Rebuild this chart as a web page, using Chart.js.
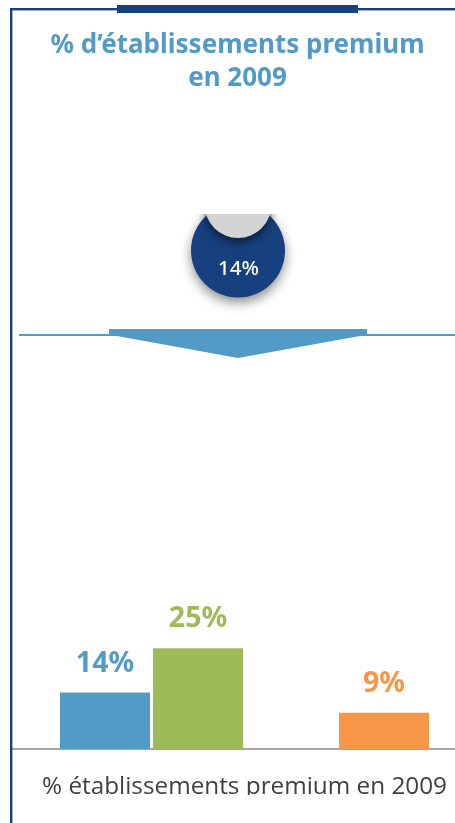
<!DOCTYPE html>
<html><head><meta charset="utf-8">
<style>html,body{margin:0;padding:0;background:#fff;overflow:hidden;width:455px;height:823px}canvas{display:block}</style>
<script src="https://cdn.jsdelivr.net/npm/chart.js@4"></script>
</head><body><canvas id="c" width="477" height="823"></canvas>
<script>
const categories = ["% établissements premium en 2009"];
const titleLines = ["% d’établissements premium", "en 2009"];
const seriesA = [14];
const seriesB = [25];
const seriesGap = [null];
const seriesC = [9];
const circleLabel = "14%";
const NAVY="#17407F", BLUE="#529BC6", GREEN="#9DBB59", ORANGE="#F79646";
const FONT='"Noto Sans", sans-serif';

const decor = {
  id:"decor",
  beforeDatasetsDraw(chart){
    const c=chart.ctx; c.save();
    // frame
    c.fillStyle=NAVY;
    c.fillRect(10,8,445,2.4);
    c.fillRect(10,8,2.4,815);
    c.fillRect(117,5,241,8);
    // title
    c.fillStyle=BLUE;c.font='bold 26px '+FONT;c.textAlign="center";c.textBaseline="alphabetic";
    c.fillText(titleLines[0],237.5,53);
    c.fillText(titleLines[1],237.5,85.5);
    // divider + arrow
    c.fillStyle=BLUE;
    c.fillRect(19,334,436,2);
    c.beginPath();
    c.moveTo(109,329);c.lineTo(367,329);c.lineTo(367,335);c.lineTo(360,336);
    c.lineTo(238,358);c.lineTo(117,336);c.lineTo(109,335);c.closePath();c.fill();
    // circle
    c.save();
    c.beginPath();c.rect(150,214,180,120);c.clip();
    c.save();
    c.shadowColor="rgba(0,0,0,0.45)";c.shadowBlur=12;c.shadowOffsetY=5;
    c.fillStyle=NAVY;c.beginPath();c.arc(238,250.5,47,0,Math.PI*2);c.fill();
    c.restore();
    c.save();
    c.shadowColor="rgba(0,0,0,0.55)";c.shadowBlur=10;c.shadowOffsetY=4;
    c.fillStyle="#D4D4D4";c.beginPath();c.arc(238,204.7,33.3,0,Math.PI*2);c.fill();
    c.restore();
    c.restore();
    c.fillStyle="#fff";c.font='500 20.5px '+FONT;c.textAlign="center";c.textBaseline="alphabetic";
    c.fillText(circleLabel,238.5,275);
    c.restore();
  },
  afterDatasetsDraw(chart){
    const c=chart.ctx; c.save();
    c.textAlign="center";c.textBaseline="alphabetic";c.font='bold 28.5px '+FONT;
    chart.data.datasets.forEach((d,i)=>{
      const v=d.data[0]; if(v==null) return;
      const el=chart.getDatasetMeta(i).data[0];
      c.fillStyle=d.backgroundColor;
      c.fillText(v+"%",el.x,el.y-21);
    });
    c.restore();
  },
  afterDraw(chart){
    const c=chart.ctx;c.save();
    c.fillStyle="#fff";c.fillRect(13,795,442,28);
    c.restore();
  }
};

new Chart(document.getElementById("c"),{
  type:"bar",
  data:{labels:categories,datasets:[
    {label:"A",data:seriesA,backgroundColor:BLUE},
    {label:"B",data:seriesB,backgroundColor:GREEN},
    {label:"gap",data:seriesGap,backgroundColor:"#fff"},
    {label:"C",data:seriesC,backgroundColor:ORANGE}
  ]},
  options:{
    responsive:false,animation:false,devicePixelRatio:1,
    layout:{padding:{left:12,right:0,top:104,bottom:0}},
    datasets:{bar:{categoryPercentage:372/465,barPercentage:90/93}},
    plugins:{
      legend:{display:false},tooltip:{enabled:false},title:{display:false}
    },
    scales:{
      y:{display:false,min:0,max:160,grid:{display:false}},
      x:{afterFit:s=>{s.height=74;},grid:{display:false,drawTicks:false},
        border:{color:"#A6A6A6",width:2},
        ticks:{color:"#404040",padding:23,maxRotation:0,font:{family:'"Open Sans", sans-serif',size:24.3}}}
    }
  },
  plugins:[decor]
});
</script></body></html>
